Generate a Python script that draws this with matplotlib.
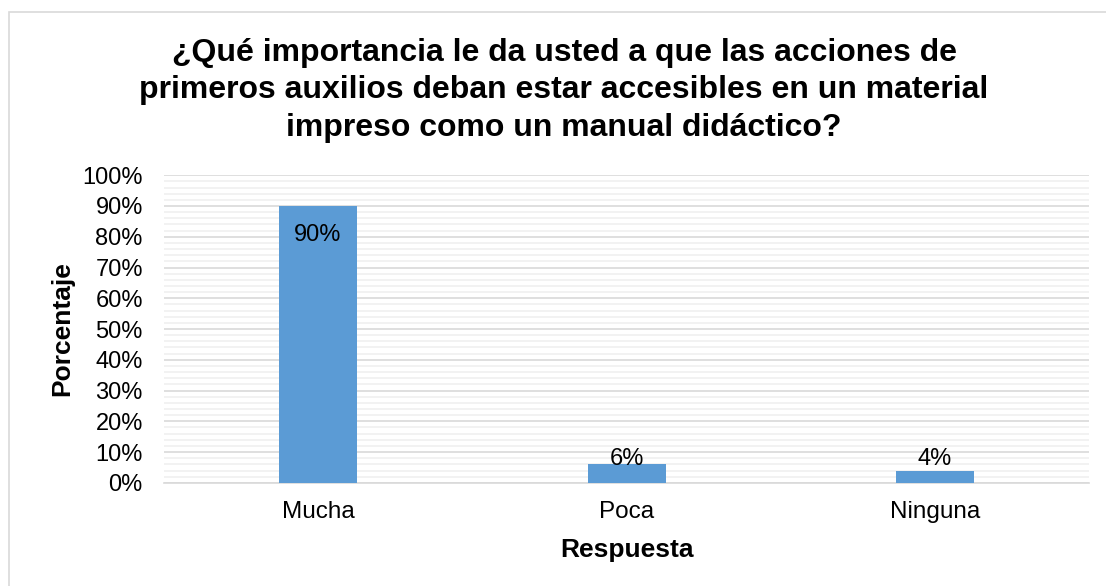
# Bar chart: importancia de primeros auxilios en material impreso

import numpy as np
import matplotlib.pyplot as plt
from matplotlib.ticker import MultipleLocator, PercentFormatter
from matplotlib.patches import Rectangle

plt.rcParams["font.family"] = ["Liberation Sans", "DejaVu Sans"]

categorias = ["Mucha", "Poca", "Ninguna"]
porcentajes = [90, 6, 4]
titulo = ("¿Qué importancia le da usted a que las acciones de\n"
          "primeros auxilios deban estar accesibles en un material\n"
          "impreso como un manual didáctico?")


def main():
    fig = plt.figure(figsize=(11.06, 5.86), dpi=100)
    ax = fig.add_axes([0.148, 0.176, 0.837, 0.525])

    # outer chart border (light grey, runs off the right/bottom edge)
    fig.patches.append(Rectangle((9 / 1106, -0.1), 1.2, 1 - 12 / 586 + 0.1,
                                 transform=fig.transFigure, fill=False,
                                 edgecolor="#d9d9d9", linewidth=1.2, zorder=0))

    x = np.arange(len(categorias))
    ax.bar(x, porcentajes, width=0.253, color="#5B9BD5", zorder=3)

    for xi, v in zip(x, porcentajes):
        if v > 20:
            ax.annotate(f"{v}%", (xi, v), xytext=(0, -13), textcoords="offset points",
                        ha="center", va="top", fontsize=17, zorder=4)
        else:
            ax.annotate(f"{v}%", (xi, 0), xytext=(0, 9.5), textcoords="offset points",
                        ha="center", va="bottom", fontsize=17, zorder=4)

    ax.set_xlim(-0.5, len(categorias) - 0.5)
    ax.set_ylim(0, 100)
    ax.yaxis.set_major_locator(MultipleLocator(10))
    ax.yaxis.set_minor_locator(MultipleLocator(2))
    ax.yaxis.set_major_formatter(PercentFormatter(decimals=0))
    ax.grid(axis="y", which="major", color="#d9d9d9", linewidth=1.2, zorder=0)
    ax.grid(axis="y", which="minor", color="#f0f0f0", linewidth=1.2, zorder=0)

    for s in ["top", "right", "left"]:
        ax.spines[s].set_visible(False)
    ax.spines["bottom"].set_color("#d9d9d9")
    ax.spines["bottom"].set_linewidth(1.2)

    ax.set_xticks(x)
    ax.set_xticklabels(categorias, fontsize=17.5)
    ax.tick_params(axis="both", which="both", length=0)
    ax.tick_params(axis="y", labelsize=17, pad=15)
    ax.tick_params(axis="x", pad=13)

    ax.set_xlabel("Respuesta", fontsize=19, fontweight="bold", labelpad=11)
    ax.set_ylabel("Porcentaje", fontsize=19, fontweight="bold", labelpad=6)
    fig.text(0.51, 1 - 38 / 586, titulo, ha="center", va="top", fontsize=23,
             fontweight="bold", linespacing=1.32)

    fig.savefig("out.png", dpi=100)


if __name__ == "__main__":
    main()
